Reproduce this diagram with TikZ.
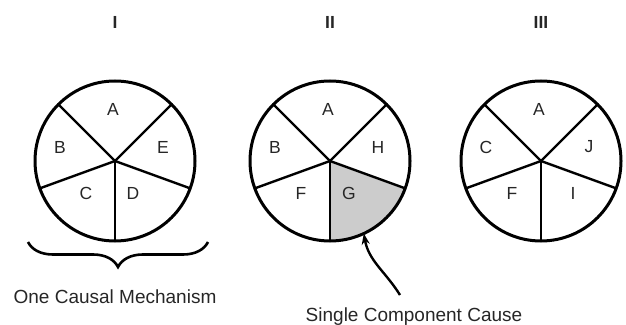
\documentclass[tikz,border=0pt]{standalone}
\usepackage{fontspec}
\setmainfont{Liberation Sans}
\usepackage{tikz}
\usetikzlibrary{positioning,arrows.meta,decorations.pathreplacing,backgrounds}

\begin{document}
\begin{tikzpicture}[x=1pt,y=1pt,font=\fontsize{17.5}{20}\selectfont]
  \tikzstyle{pie}=[draw,circle,line width=3pt,minimum size=160pt,inner sep=0pt,outer sep=0pt]
  \tikzstyle{spoke}=[line width=2.4pt]
  \tikzstyle{lbl}=[text=black!85,inner sep=0pt]
  \tikzstyle{note}=[text=black!85,inner sep=0pt,anchor=base,font=\fontsize{19}{22}\selectfont]
  \useasboundingbox (0,0) rectangle (626,324);
  % three sufficient causes, five components each
  \foreach \n/\cx/\dx/\la/\lb/\lc/\ld/\le in {I/115/18/A/B/C/D/E,II/330/19/A/B/F/G/H,III/541/32/A/C/F/I/J} {
    \node[lbl,font=\fontsize{17.5}{20}\selectfont\bfseries] (num\n) at (\cx,302) {\n};
    \node[pie] (p\n) at (\cx,163) {};
    \foreach \t in {45,135,200,270,340} \draw[spoke] (p\n.center) -- (p\n.\t);
    \node[lbl] (\n-a) at (\cx-2,215) {\la};
    \node[lbl] (\n-b) at (\cx-55,177) {\lb};
    \node[lbl] (\n-e) at (\cx+48,177) {\le};
    \node[lbl] (\n-c) at (\cx-29,131) {\lc};
    \node[lbl] (\n-d) at (\cx+\dx,131) {\ld};
  }
  \begin{scope}[on background layer]
    \fill[black!20] (pII.center) -- (pII.270) arc[start angle=270,end angle=340,radius=80pt] -- cycle;
  \end{scope}
  % brace under the first pie
  \coordinate (bl) at (28,82);
  \coordinate (br) at (208,82);
  \draw[line width=2.6pt,decorate,decoration={brace,mirror,amplitude=25pt}] (bl) -- (br);
  \node[note] (mech) at (115,21) {One Causal Mechanism};
  \node[note] (single) at (414,3) {Single Component Cause};
  \coordinate (tail) at (400,29);
  \draw[line width=2.4pt,-{Stealth[length=11pt,width=8pt]}] (tail) to[out=122,in=-80] (pII.-65);
\end{tikzpicture}
\end{document}
